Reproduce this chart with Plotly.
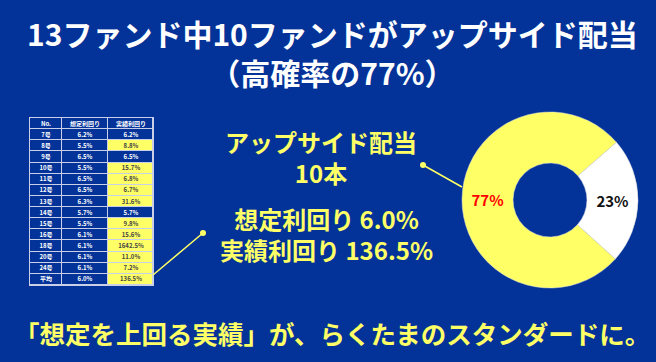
import plotly.graph_objects as go

W, H = 656, 362
BG = "#033399"
YEL = "#FFFF66"
GRID = "#C8CFE6"
FONT = "Noto Sans CJK JP"

# ---- data ----
funds = ["7号", "8号", "9号", "10号", "11号", "12号", "13号", "14号", "15号",
         "16号", "18号", "20号", "24号", "平均"]
expected = ["6.2%", "5.5%", "6.5%", "5.5%", "6.5%", "6.5%", "6.3%", "5.7%",
            "5.5%", "6.1%", "6.1%", "6.1%", "6.1%", "6.0%"]
actual = ["6.2%", "8.8%", "6.5%", "15.7%", "6.8%", "6.7%", "31.6%", "5.7%",
          "9.8%", "15.6%", "1642.5%", "11.0%", "7.2%", "136.5%"]
upside = [False, True, False, True, True, True, True, False, True, True,
          True, True, True, True]
headers = ["No.", "想定利回り", "実績利回り"]
col_widths = [32, 46, 45]

pie_labels = ["その他", "アップサイド配当"]
pie_values = [3, 10]


def px(x):
    return x / W


def py(y):
    return 1 - y / H


fig = go.Figure()

# ---- table drawn as a heatmap grid ----
rows_text = [headers] + [[f, e, a] for f, e, a in zip(funds, expected, actual)]
rows_z = [[0, 0, 0]] + [[0, 0, 1 if u else 0] for u in upside]
x_edges = [0]
for w in col_widths:
    x_edges.append(x_edges[-1] + w)
y_edges = list(range(len(rows_text) + 1))

fig.add_trace(go.Heatmap(
    z=rows_z, x=x_edges, y=y_edges, text=rows_text,
    texttemplate="<b>%{text}</b>",
    textfont=dict(size=6, family=FONT),
    colorscale=[[0, BG], [1, YEL]], zmin=0, zmax=1, showscale=False,
    xgap=1, ygap=1, hoverinfo="skip",
))
fig.update_xaxes(domain=[px(30), px(153)], range=[0, x_edges[-1]],
                 showgrid=False, zeroline=False, showticklabels=False,
                 showline=True, mirror=True, linecolor=GRID, linewidth=1)
fig.update_yaxes(domain=[py(285), py(118)], range=[y_edges[-1], 0],
                 showgrid=False, zeroline=False, showticklabels=False,
                 showline=True, mirror=True, linecolor=GRID, linewidth=1)

# ---- donut ----
fig.add_trace(go.Pie(
    labels=pie_labels, values=pie_values, sort=False, direction="clockwise",
    rotation=49, hole=0.42,
    domain=dict(x=[px(462), px(638)], y=[py(288), py(112)]),
    marker=dict(colors=["white", YEL], line=dict(color="#dddddd", width=0.5)),
    texttemplate="%{percent:.0%}", textposition="inside",
    insidetextorientation="horizontal",
    textfont=dict(color=["#111111", "#FF0000"], size=15, family=FONT, weight="bold"),
    showlegend=False, hoverinfo="skip",
))

ann = []


def text(s, x, y, size, color):
    ann.append(dict(text=s, x=px(x), y=py(y), xref="paper", yref="paper",
                    xanchor="center", yanchor="middle", showarrow=False,
                    font=dict(size=size, color=color, family=FONT, weight="bold")))


text("13ファンド中10ファンドがアップサイド配当<br>（高確率の77%）", 332, 52.5, 30, "white")
text("アップサイド配当<br>10本", 321, 156.5, 24, YEL)
text("想定利回り 6.0%<br>実績利回り 136.5%", 326, 233.5, 24, YEL)
text("「想定を上回る実績」が、らくたまのスタンダードに。", 332, 332, 25.5, YEL)

shapes = []
for (x0, y0, x1, y1) in [(423, 165, 462, 187), (203, 233, 153, 275)]:
    shapes.append(dict(type="line", xref="paper", yref="paper",
                       x0=px(x0), y0=py(y0), x1=px(x1), y1=py(y1),
                       line=dict(color=YEL, width=1.5)))
    shapes.append(dict(type="circle", xref="paper", yref="paper",
                       x0=px(x0 - 3), y0=py(y0 - 3), x1=px(x0 + 3), y1=py(y0 + 3),
                       fillcolor=YEL, line=dict(color=YEL, width=0)))

fig.update_layout(width=W, height=H, margin=dict(l=0, r=0, t=0, b=0),
                  paper_bgcolor=BG, plot_bgcolor=GRID,
                  annotations=ann, shapes=shapes)
fig.write_html("out.html")
